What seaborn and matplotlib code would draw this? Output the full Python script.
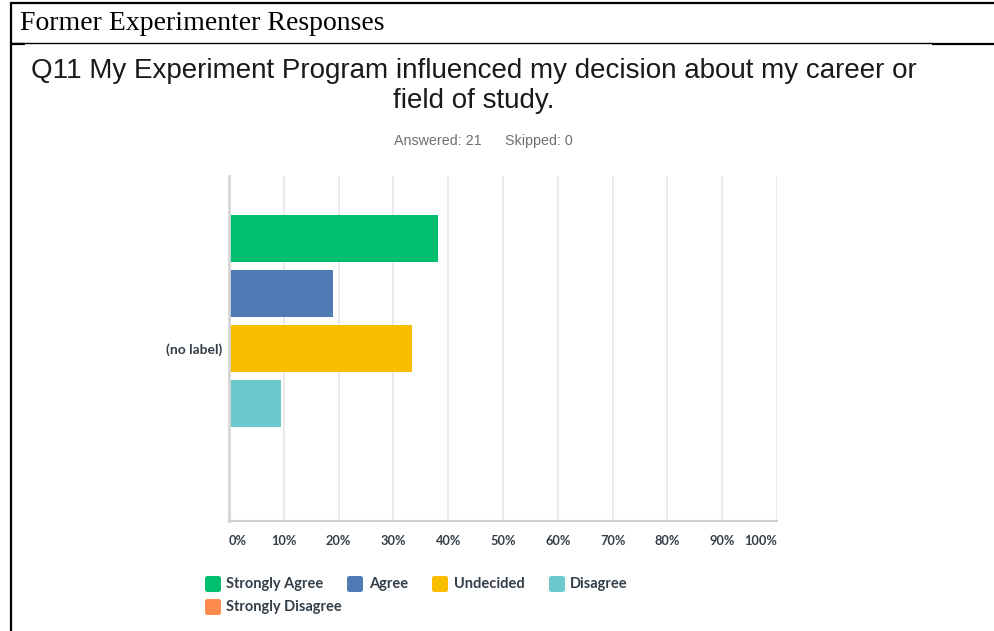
import matplotlib
matplotlib.use("Agg")
import matplotlib.pyplot as plt
from matplotlib.patches import FancyBboxPatch
from matplotlib.lines import Line2D
from matplotlib.transforms import IdentityTransform
import seaborn as sns
import pandas as pd

# Survey results: share of 21 respondents per answer (percent)
answers = ["Strongly Agree", "Agree", "Undecided", "Disagree", "Strongly Disagree"]
percent = [38.10, 19.05, 33.33, 9.52, 0.0]
colors = ["#00BF6F", "#507CB6", "#F9BE00", "#6BC8CD", "#FF8B4F"]
row_label = ["(no label)"]
ticks = [0, 10, 20, 30, 40, 50, 60, 70, 80, 90, 100]
tick_labels = [f"{t}%" for t in ticks]
answered = 21
skipped = 0

header = "Former Experimenter Responses"
question = "Q11 My Experiment Program influenced my decision about my career or\nfield of study."

sns.set_theme(style="white")
plt.rcParams["font.family"] = ["Lato", "DejaVu Sans"]

W, H = 994, 631
fig = plt.figure(figsize=(W / 100, H / 100), dpi=100)
fig.patch.set_facecolor("white")


def fx(px):
    return px / W


def fy(py):
    return 1 - py / H


# --- table frame around the chart ---
frame = dict(transform=fig.transFigure, color="black", solid_capstyle="butt")
fig.add_artist(Line2D([fx(11), fx(11)], [fy(2), fy(631)], lw=1.6, **frame))
fig.add_artist(Line2D([fx(11), fx(994)], [fy(3), fy(3)], lw=1.6, **frame))
fig.add_artist(Line2D([fx(11), fx(932)], [fy(43), fy(43)], lw=1.0, **frame))
fig.add_artist(Line2D([fx(11), fx(25)], [fy(43.5), fy(43.5)], lw=1.6, **frame))
fig.add_artist(Line2D([fx(932), fx(994)], [fy(44), fy(44)], lw=1.6, **frame))

fig.text(fx(20), fy(23), header, family=["Liberation Serif"], fontsize=20,
         ha="left", va="center", color="black")
fig.text(fx(474), fy(86), question, family=["Liberation Sans"], fontsize=20,
         ha="center", va="center", color="#1a1a1a", linespacing=1.16)
fig.text(fx(394), fy(141), f"Answered: {answered}", family=["Liberation Sans"],
         fontsize=10.3, ha="left", va="center", color="#6f6f6f")
fig.text(fx(505), fy(141), f"Skipped: {skipped}", family=["Liberation Sans"],
         fontsize=10.3, ha="left", va="center", color="#6f6f6f")

# --- bar chart ---
ax = fig.add_axes([fx(229), fy(521), fx(777) - fx(229), fy(176) - fy(521)])
df = pd.DataFrame({
    "row": row_label * len(answers),
    "answer": answers,
    "pct": percent,
})
sns.barplot(data=df, x="pct", y="row", hue="answer", hue_order=answers,
            palette=colors, orient="h", width=0.8, gap=0.15, dodge=True,
            saturation=1, linewidth=0, legend=False, ax=ax)

ax.set_xlim(0, 100)
ax.set_ylim(0.5, -0.5)
ax.set_xlabel("")
ax.set_ylabel("")
ax.set_xticks(ticks)
ax.set_xticklabels(tick_labels)
ax.xaxis.grid(True, color="#e8e8e8", lw=1.3)
ax.yaxis.grid(False)
ax.set_axisbelow(True)
for side in ("top", "right"):
    ax.spines[side].set_visible(False)
ax.spines["left"].set_color("#d6d6d6")
ax.spines["left"].set_linewidth(2)
ax.spines["bottom"].set_color("#d0d0d0")
ax.spines["bottom"].set_linewidth(1.5)

label_color = "#333E48"
ax.tick_params(axis="x", length=0, pad=10, labelsize=9.2, labelcolor=label_color)
ax.tick_params(axis="y", length=0, pad=5, labelsize=10, labelcolor=label_color)
for lab in ax.get_xticklabels() + ax.get_yticklabels():
    lab.set_fontweight("bold")
xl = ax.get_xticklabels()
xl[0].set_ha("left")
xl[-1].set_ha("right")

# --- legend: rounded swatches in two rows ---
legend_slots = [(205, 584, 226), (347, 584, 369), (432, 584, 454),
                (549, 584, 570), (205, 607, 226)]
for (sx, sy, tx), name, col in zip(legend_slots, answers, colors):
    sw = FancyBboxPatch((sx, H - sy - 8), 16, 16,
                        boxstyle="round,pad=0,rounding_size=2.5",
                        facecolor=col, edgecolor="none",
                        transform=IdentityTransform())
    fig.add_artist(sw)
    fig.text(fx(tx), fy(sy), name, fontsize=10.5, fontweight="bold",
             color=label_color, ha="left", va="center")

fig.savefig("out.png", dpi=100)
